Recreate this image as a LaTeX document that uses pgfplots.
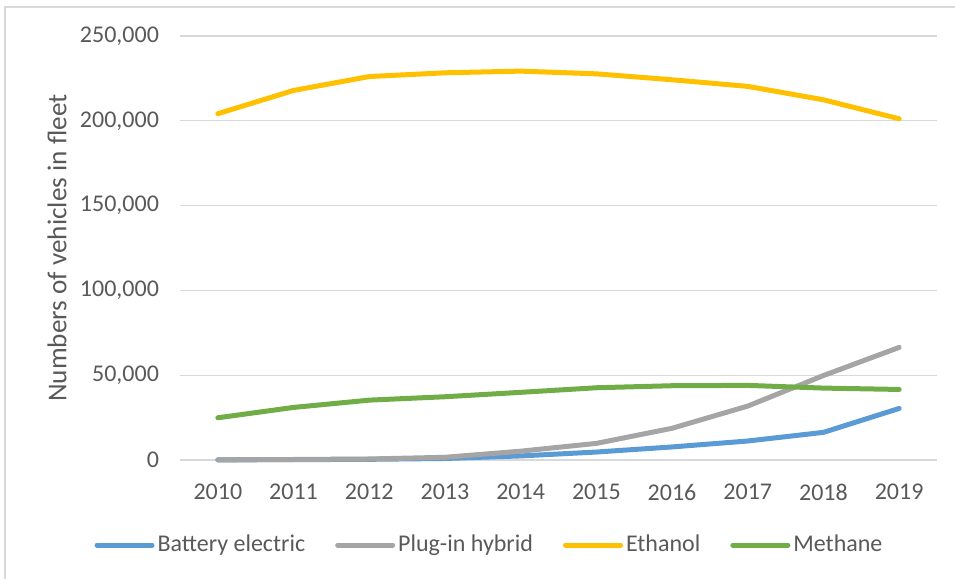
\documentclass[border=0pt]{standalone}
\usepackage{fontspec}
\setmainfont{Carlito}
\usepackage{pgfplots}
\pgfplotsset{compat=1.18}

\definecolor{txt}{HTML}{595959}
\definecolor{gridc}{HTML}{D9D9D9}
\definecolor{bev}{HTML}{5B9BD5}
\definecolor{phev}{HTML}{A5A5A5}
\definecolor{eth}{HTML}{FFC000}
\definecolor{meth}{HTML}{70AD47}

\begin{document}
\begin{tikzpicture}
% 1 px of the reference = 0.5pt
\path[use as bounding box] (0,0) rectangle (477.5pt,-289.5pt);
\draw[gridc,line width=0.6pt] (2.5pt,-289.5pt) -- (2.5pt,-3.5pt) -- (477.5pt,-3.5pt);
\begin{axis}[
  at={(90pt,-230pt)}, anchor=south west,
  width=378.5pt, height=212pt, scale only axis,
  font=\fontsize{12}{14}\selectfont\color{txt},
  xmin=2009.5, xmax=2019.5,
  ymin=0, ymax=250000,
  scaled y ticks=false,
  xtick={2010,2011,2012,2013,2014,2015,2016,2017,2018,2019},
  xticklabels={2010,2011,2012,2013,2014,2015,2016,2017,2018,2019},
  ytick={0,50000,100000,150000,200000,250000},
  yticklabels={0,{50,000},{100,000},{150,000},{200,000},{250,000}},
  major tick length=0pt,
  axis line style={draw=none},
  ymajorgrids=true,
  grid style={gridc,line width=0.6pt},
  xticklabel style={yshift=-8.5pt},
  yticklabel style={xshift=-7pt},
  ylabel={Numbers of vehicles in fleet},
  ylabel style={at={(axis description cs:-0.1625,0.5)},anchor=center,rotate=0,
    font=\fontsize{13.6}{16}\selectfont\color{txt}},
  legend columns=4,
  legend style={draw=none,fill=none,at={(axis description cs:0.4095,-0.2005)},anchor=center,
    /tikz/every even column/.append style={column sep=13.5pt},
    nodes={inner xsep=1.5pt,text=txt}},
  legend image code/.code={\draw[#1] (0pt,0pt) -- (27.5pt,0pt);},
  every axis plot/.append style={line width=2.5pt,line cap=round,line join=round,mark=none},
  clip=false,
]
\addplot[bev] coordinates {
(2010,100) (2011,200) (2012,400) (2013,900) (2014,2400)
(2015,4700) (2016,7700) (2017,11200) (2018,16300) (2019,30400)
};
\addlegendentry{Battery electric}
\addplot[phev] coordinates {
(2010,100) (2011,300) (2012,600) (2013,1600) (2014,5200)
(2015,9800) (2016,18700) (2017,31800) (2018,49800) (2019,66400)
};
\addlegendentry{Plug-in hybrid}
\addplot[eth] coordinates {
(2010,204200) (2011,217900) (2012,226100) (2013,228300) (2014,229300)
(2015,227700) (2016,224200) (2017,220300) (2018,212400) (2019,201200)
};
\addlegendentry{Ethanol}
\addplot[meth] coordinates {
(2010,24900) (2011,31000) (2012,35300) (2013,37300) (2014,39900)
(2015,42600) (2016,43800) (2017,44000) (2018,42400) (2019,41600)
};
\addlegendentry{Methane}
\end{axis}
\end{tikzpicture}
\end{document}
